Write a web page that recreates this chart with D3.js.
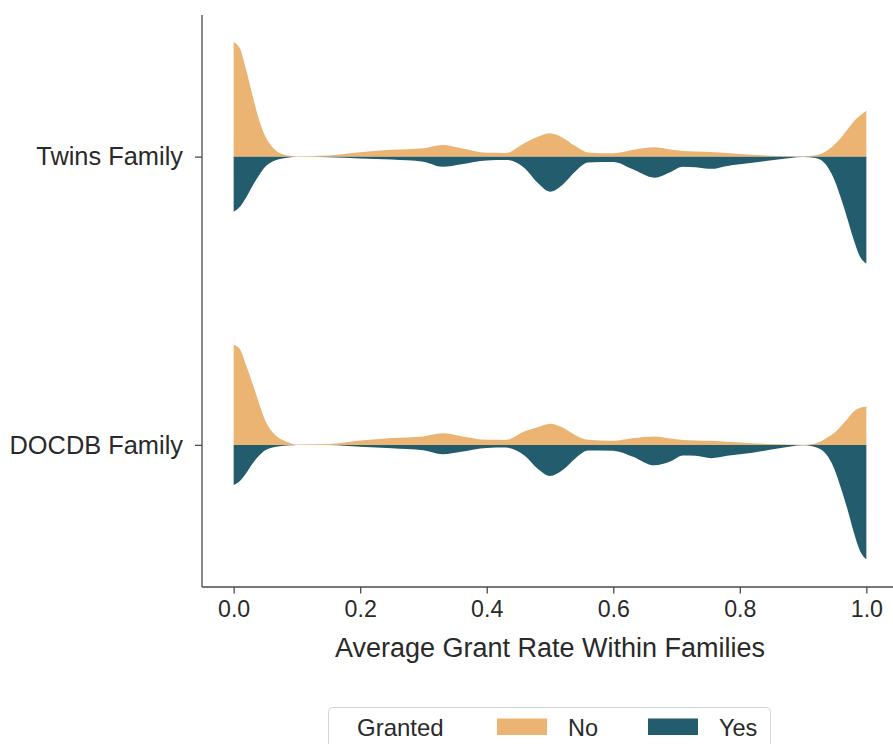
<!DOCTYPE html>
<html>
<head>
<meta charset="utf-8">
<script src="https://cdn.jsdelivr.net/npm/d3@7"></script>
<style>
  html, body { margin: 0; padding: 0; background: #ffffff; }
  svg { display: block; font-family: "Liberation Sans", Arial, sans-serif; }
</style>
</head>
<body>
<svg id="chart" width="893" height="744"></svg>
<script>
// Families compared (one split violin per row)
const categories = ["Twins Family", "DOCDB Family"];
// Granted status: top half = "No", bottom half = "Yes"
const hueLevels = ["No", "Yes"];
const hueColors = ["#EBB473", "#225C6D"];

// Evaluation grid for the kernel density curves (average grant rate)
const gridX = [0, 0.01, 0.02, 0.03, 0.04, 0.05, 0.06, 0.07, 0.08, 0.09, 0.10,
  0.15, 0.20, 0.25, 0.30, 0.33, 0.36, 0.40, 0.43, 0.46, 0.48,
  0.50, 0.52, 0.54, 0.56, 0.60, 0.63, 0.665, 0.69, 0.71, 0.73, 0.755, 0.78,
  0.82, 0.86, 0.90, 0.92, 0.94, 0.95, 0.96, 0.97, 0.98, 0.99, 1.0];

// Scaled densities (widest half = 1)
const twinsNo = [1.000, 0.945, 0.752, 0.532, 0.325, 0.177, 0.091, 0.040, 0.017, 0.008, 0.003,
  0.010, 0.038, 0.059, 0.073, 0.101, 0.074, 0.033, 0.032, 0.118, 0.171,
  0.204, 0.166, 0.092, 0.037, 0.029, 0.057, 0.081, 0.063, 0.050, 0.045, 0.041, 0.032,
  0.017, 0.005, 0.002, 0.012, 0.061, 0.109, 0.166, 0.236, 0.306, 0.359, 0.400];
const twinsYes = [0.481, 0.437, 0.354, 0.254, 0.164, 0.089, 0.048, 0.026, 0.015, 0.006, 0.002,
  0.005, 0.016, 0.025, 0.045, 0.089, 0.066, 0.033, 0.029, 0.101, 0.227,
  0.306, 0.245, 0.131, 0.052, 0.048, 0.109, 0.184, 0.136, 0.089, 0.093, 0.107, 0.081,
  0.054, 0.026, 0.003, 0.013, 0.101, 0.210, 0.367, 0.542, 0.726, 0.875, 0.934];
const docdbNo = [0.875, 0.836, 0.691, 0.534, 0.367, 0.214, 0.121, 0.066, 0.035, 0.015, 0.003,
  0.007, 0.038, 0.060, 0.074, 0.101, 0.076, 0.044, 0.043, 0.118, 0.153,
  0.184, 0.151, 0.085, 0.044, 0.035, 0.057, 0.073, 0.055, 0.043, 0.038, 0.035, 0.027,
  0.015, 0.005, 0.001, 0.013, 0.070, 0.109, 0.166, 0.227, 0.291, 0.324, 0.335];
const docdbYes = [0.350, 0.315, 0.245, 0.162, 0.096, 0.048, 0.026, 0.014, 0.007, 0.004, 0.001,
  0.002, 0.017, 0.029, 0.048, 0.083, 0.061, 0.028, 0.024, 0.096, 0.206,
  0.271, 0.219, 0.118, 0.049, 0.051, 0.101, 0.179, 0.146, 0.093, 0.095, 0.116, 0.096,
  0.068, 0.032, 0.003, 0.020, 0.109, 0.219, 0.381, 0.560, 0.761, 0.927, 1.000];

const xTicks = [0, 0.2, 0.4, 0.6, 0.8, 1.0];
const xTitle = "Average Grant Rate Within Families";
const legendTitle = "Granted";

const densities = {
  "Twins Family": { No: twinsNo, Yes: twinsYes },
  "DOCDB Family": { No: docdbNo, Yes: docdbYes }
};

const svg = d3.select("#chart");
const plot = { left: 202, right: 898, top: 15, bottom: 587 };
const ink = "#2a2a2a";
const fontStack = "Liberation Sans, Arial, sans-serif";

const x = d3.scaleLinear().domain([-0.05, 1.05]).range([plot.left, plot.right]);
const y = d3.scalePoint().domain(categories).range([12.5, 589]).padding(0.5);
const w = d3.scaleLinear().domain([0, 1]).range([0, y.step() * 0.397]);

// Split violins
categories.forEach(cat => {
  const cy = y(cat);
  hueLevels.forEach((lvl, i) => {
    const sign = i === 0 ? -1 : 1;
    const pts = gridX.map((gx, k) => [gx, densities[cat][lvl][k]]);
    const area = d3.area()
      .x(d => x(d[0]))
      .y0(cy)
      .y1(d => cy + sign * w(d[1]))
      .curve(d3.curveMonotoneX);
    svg.append("path")
      .datum(pts)
      .attr("d", area)
      .attr("fill", hueColors[i]);
  });
});

// Spines (left and bottom only)
svg.append("line")
  .attr("x1", plot.left).attr("x2", plot.left)
  .attr("y1", plot.top).attr("y2", plot.bottom)
  .attr("stroke", "#4a4a4a").attr("stroke-width", 1.3);
svg.append("line")
  .attr("x1", plot.left).attr("x2", plot.right)
  .attr("y1", plot.bottom).attr("y2", plot.bottom)
  .attr("stroke", "#4a4a4a").attr("stroke-width", 1.3);

// X axis
const xAxis = svg.append("g")
  .attr("transform", `translate(0,${plot.bottom})`)
  .call(d3.axisBottom(x).tickValues(xTicks).tickFormat(d3.format(".1f"))
    .tickSize(6.5).tickPadding(7).tickSizeOuter(0));
xAxis.select(".domain").remove();
xAxis.selectAll(".tick line").attr("stroke", "#4a4a4a").attr("stroke-width", 1.3);
xAxis.selectAll(".tick text")
  .attr("fill", ink).attr("font-size", 23.2)
  .attr("font-family", fontStack);

// Y axis
const yAxis = svg.append("g")
  .attr("transform", `translate(${plot.left},0)`)
  .call(d3.axisLeft(y).tickSize(7).tickPadding(12).tickSizeOuter(0));
yAxis.select(".domain").remove();
yAxis.selectAll(".tick line").attr("stroke", "#4a4a4a").attr("stroke-width", 1.3);
yAxis.selectAll(".tick text")
  .attr("fill", ink).attr("font-size", 25.4)
  .attr("font-family", fontStack);

// Axis title
svg.append("text")
  .attr("x", (plot.left + plot.right) / 2)
  .attr("y", 657)
  .attr("text-anchor", "middle")
  .attr("fill", ink)
  .attr("font-size", 27)
  .text(xTitle);

// Legend
const lg = svg.append("g");
lg.append("rect")
  .attr("x", 328.5).attr("y", 707.5)
  .attr("width", 442).attr("height", 60)
  .attr("rx", 4).attr("ry", 4)
  .attr("fill", "#ffffff")
  .attr("stroke", "#d4d4d4").attr("stroke-width", 1);
lg.append("text")
  .attr("x", 357).attr("y", 736)
  .attr("fill", ink).attr("font-size", 24)
  .text(legendTitle);
const legendItems = [
  { label: hueLevels[0], color: hueColors[0], px: 497, tx: 568 },
  { label: hueLevels[1], color: hueColors[1], px: 648, tx: 719 }
];
legendItems.forEach(it => {
  lg.append("rect")
    .attr("x", it.px).attr("y", 718.5)
    .attr("width", 50).attr("height", 16.5)
    .attr("fill", it.color);
  lg.append("text")
    .attr("x", it.tx).attr("y", 736)
    .attr("fill", ink).attr("font-size", 23.5)
    .text(it.label);
});
</script>
</body>
</html>
